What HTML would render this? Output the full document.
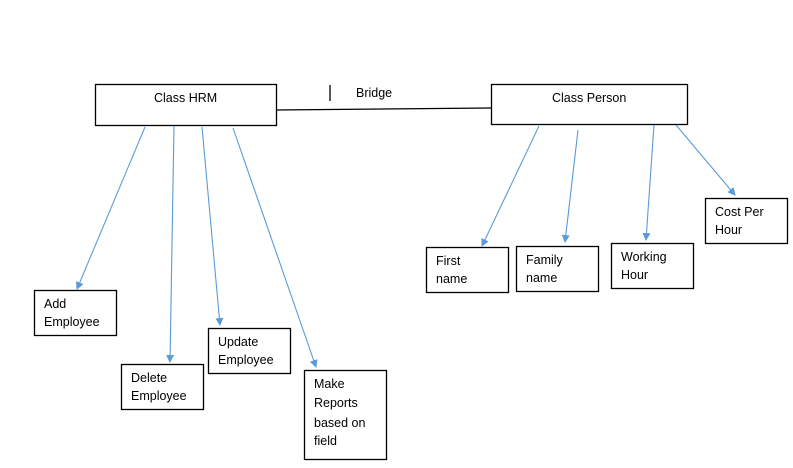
<!DOCTYPE html>
<html><head><style>
html,body{margin:0;padding:0;background:#fff;}
svg{display:block;}
text{font-family:"Liberation Sans",sans-serif;font-size:12.5px;fill:#000;}
</style></head><body>
<svg width="793" height="468" viewBox="0 0 793 468" xmlns="http://www.w3.org/2000/svg">
<defs>
<marker id="a" markerWidth="10" markerHeight="10" refX="7" refY="4" orient="auto" markerUnits="userSpaceOnUse">
<path d="M0,0 L8,4 L0,8 z" fill="#5b9bd5"/>
</marker>
</defs>
<g fill="none" stroke="#000" stroke-width="1.3">
<rect x="95.5" y="84.5" width="181" height="41"/>
<rect x="491.5" y="84.5" width="196" height="40"/>
<rect x="34.5" y="290.5" width="82" height="45"/>
<rect x="121.5" y="364.5" width="82" height="45"/>
<rect x="208.5" y="328.5" width="82" height="45"/>
<rect x="304.5" y="370.5" width="82" height="89"/>
<rect x="426.5" y="247.5" width="82" height="45"/>
<rect x="516.5" y="246.5" width="82" height="45"/>
<rect x="611.5" y="243.5" width="82" height="45"/>
<rect x="705.5" y="198.5" width="82" height="45"/>
<line x1="276" y1="110" x2="491" y2="108"/>
<line x1="330" y1="85" x2="330" y2="101"/>
</g>
<g stroke="#5b9bd5" stroke-width="1.1" marker-end="url(#a)">
<line x1="145" y1="127" x2="77" y2="289"/>
<line x1="174" y1="126" x2="170" y2="362"/>
<line x1="202" y1="127" x2="220" y2="325"/>
<line x1="233" y1="128" x2="316" y2="367"/>
<line x1="539" y1="126" x2="482" y2="246"/>
<line x1="578" y1="130" x2="565" y2="242"/>
<line x1="654" y1="125" x2="646" y2="240"/>
<line x1="676" y1="125" x2="735" y2="195"/>
</g>
<text x="154" y="102">Class HRM</text>
<text x="552" y="102">Class Person</text>
<text x="356" y="97">Bridge</text>
<text x="44" y="308">Add</text><text x="44" y="326">Employee</text>
<text x="131" y="382">Delete</text><text x="131" y="400">Employee</text>
<text x="218" y="346">Update</text><text x="218" y="364">Employee</text>
<text x="314" y="388">Make</text><text x="314" y="407">Reports</text><text x="314" y="427">based on</text><text x="314" y="445">field</text>
<text x="436" y="265">First</text><text x="436" y="283">name</text>
<text x="526" y="264">Family</text><text x="526" y="282">name</text>
<text x="621" y="261">Working</text><text x="621" y="279">Hour</text>
<text x="715" y="216">Cost Per</text><text x="715" y="234">Hour</text>
</svg>
</body></html>
